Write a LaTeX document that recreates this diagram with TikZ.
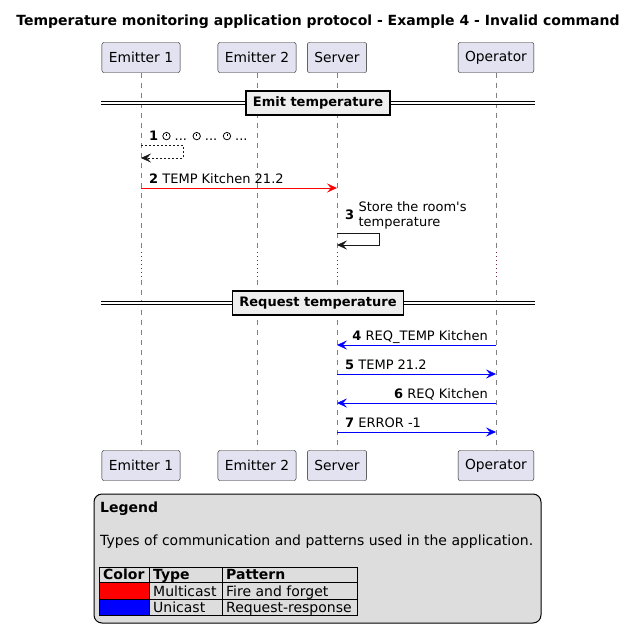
\documentclass[tikz,border=0pt]{standalone}
\usepackage{fontspec}
\setmainfont{DejaVu Sans}
\usepackage{xcolor}
\usepackage{tikz}
\usetikzlibrary{arrows.meta,positioning}
\definecolor{partfill}{HTML}{E2E2F0}
\definecolor{partline}{HTML}{181818}
\definecolor{lifegray}{HTML}{808080}
\definecolor{delaydot}{HTML}{7A2048}
\definecolor{dividerfill}{HTML}{EEEEEE}
\definecolor{legendfill}{HTML}{DDDDDD}
\newcommand{\TitleFont}{\fontsize{14}{17}\selectfont}
\newcommand{\NameFont}{\fontsize{13.8}{16}\selectfont}
\newcommand{\MsgFont}{\fontsize{13}{15}\selectfont}
\newcommand{\LegendFont}{\fontsize{14}{16}\selectfont}
\newcommand{\clockicon}{\tikz[baseline={(0,-4.4pt)},x=1pt,y=1pt]{\draw[line width=0.8pt] (0,0) circle (3.7);\draw[line width=0.8pt] (0,0) -- (0,2.4);}}

\begin{document}
\begin{tikzpicture}[x=1pt,y=-1pt,
    part/.style={draw=partline,fill=partfill,rounded corners=2pt,minimum height=30pt,inner xsep=7pt,font=\NameFont},
    life/.style={lifegray,dash pattern=on 5pt off 5pt},
    delay/.style={delaydot,dash pattern=on 1pt off 3pt},
    msg/.style={font=\MsgFont,inner sep=0pt},
    leg/.style={font=\LegendFont,inner sep=0pt,anchor=base west},
    msgtip/.style={-{Stealth[length=10pt,width=9pt,inset=4pt]}},
    self/.style={msgtip,partline},
    multi/.style={msgtip,red},
    uni/.style={msgtip,blue},
    divline/.style={line width=0.9pt,double,double distance=2pt},
    divbox/.style={draw,line width=1.5pt,fill=dividerfill,font=\MsgFont\bfseries,minimum height=24pt,inner xsep=7pt}]
  \useasboundingbox (0,0) rectangle (637,641);
  \node[font=\TitleFont\bfseries] (title) at (318,22) {Temperature monitoring application protocol - Example 4 - Invalid command};
  \foreach \x/\n/\t in {141/eone/Emitter 1,257/etwo/Emitter 2,337/srv/Server,496/op/Operator}{
    \node[part] (\n-top) at (\x,57.5) {\t};
    \node[part] (\n-bot) at (\x,465.5) {\t};
    \coordinate (\n-d1) at (\x,252);
    \coordinate (\n-d2) at (\x,280);
    \draw[life] (\n-top) -- (\n-d1);
    \draw[delay] (\n-d1) -- (\n-d2);
    \draw[life] (\n-d2) -- (\n-bot);
  }
  \foreach \y/\n/\t in {103/emit/Emit temperature,303/req/Request temperature}{
    \coordinate (\n-w) at (101,\y);
    \coordinate (\n-e) at (535,\y);
    \draw[divline] (\n-w) -- (\n-e);
    \node[divbox] (\n) at (318,\y) {\t};
  }
  \foreach \n/\y in {r1a/145,r1b/158,r2/188,r3a/233,r3b/245,r4/345,r5/374,r6/403,r7/432}
    \coordinate (\n) at (0,\y);
  \coordinate (s1) at (183,0);
  \coordinate (s3) at (379,0);
  \draw[self,dash pattern=on 2pt off 2pt] (eone-top |- r1a) -| (s1 |- r1b) -- (eone-top |- r1b);
  \node[msg,anchor=base west] (l1) at (149,140.5) {\textbf{1} \clockicon{} ... \clockicon{} ... \clockicon{} ...};
  \draw[multi] (eone-top |- r2) -- (srv-top |- r2);
  \node[msg,anchor=base west] (l2) at (149,183) {\textbf{2} TEMP Kitchen 21.2};
  \draw[self] (srv-top |- r3a) -| (s3 |- r3b) -- (srv-top |- r3b);
  \node[msg,anchor=west] (l3) at (345,215) {\textbf{3}};
  \node[msg,anchor=west,align=left,right=4pt of l3] (l3t) {Store the room\textquotesingle s\\temperature};
  \draw[uni] (op-top |- r4) -- (srv-top |- r4);
  \node[msg,anchor=base east] (l4) at (488,340) {\textbf{4} REQ\_TEMP Kitchen};
  \draw[uni] (srv-top |- r5) -- (op-top |- r5);
  \node[msg,anchor=base west] (l5) at (345,369) {\textbf{5} TEMP 21.2};
  \draw[uni] (op-top |- r6) -- (srv-top |- r6);
  \node[msg,anchor=base east] (l6) at (488,398) {\textbf{6} REQ Kitchen};
  \draw[uni] (srv-top |- r7) -- (op-top |- r7);
  \node[msg,anchor=base west] (l7) at (345,427) {\textbf{7} ERROR -1};
  \node[draw,line width=1pt,fill=legendfill,rounded corners=8pt,minimum width=447pt,minimum height=129pt] (legend) at (317.5,558.5) {};
  \node[leg,font=\LegendFont\bfseries] (legendtitle) at (100,512) {Legend};
  \node[leg] (legendtext) at (100,545) {Types of communication and patterns used in the application.};
  \fill[red] (99,582) rectangle (149,599);
  \fill[blue] (99,599) rectangle (149,615);
  \draw[line width=0.8pt] (99,567) rectangle (357,615);
  \foreach \y in {582,599}
    \draw[line width=0.8pt] (99,\y) -- (357,\y);
  \foreach \x in {149,222}
    \draw[line width=0.8pt] (\x,567) -- (\x,615);
  \node[leg,font=\LegendFont\bfseries] (hcolor) at (103,579) {Color};
  \node[leg,font=\LegendFont\bfseries] (htype) at (153,579) {Type};
  \node[leg,font=\LegendFont\bfseries] (hpattern) at (226,579) {Pattern};
  \node[leg] (tmulti) at (153,596) {Multicast};
  \node[leg] (pmulti) at (226,596) {Fire and forget};
  \node[leg] (tuni) at (153,612) {Unicast};
  \node[leg] (puni) at (226,612) {Request-response};
\end{tikzpicture}
\end{document}
